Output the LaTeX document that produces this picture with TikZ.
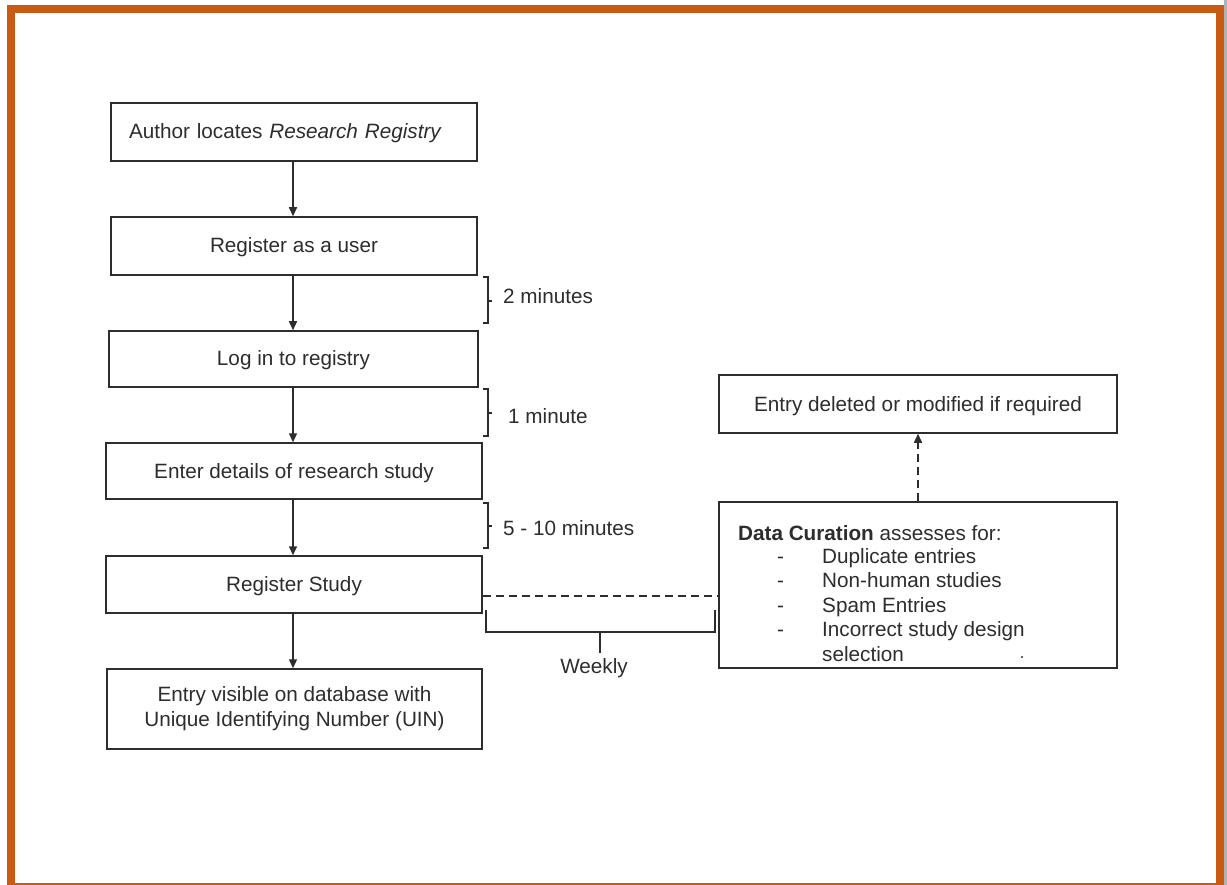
\documentclass[tikz,border=0pt]{standalone}
\usepackage{fontspec}
\setmainfont{Liberation Sans}
\usetikzlibrary{arrows.meta}
\definecolor{frame}{RGB}{200,90,20}
\definecolor{ink}{RGB}{45,45,45}
\begin{document}
\begin{tikzpicture}[x=1pt,y=-1pt,
  every node/.style={text=ink, font=\fontsize{20.7}{25}\selectfont},
  box/.style={draw=ink, line width=1.5pt, inner sep=0pt, align=center},
  one/.style={text height=14.8pt, text depth=0.8pt},
  flow/.style={draw=ink, line width=1.5pt, -{Triangle[length=9pt,width=8pt]}},
  dflow/.style={draw=ink, line width=1.5pt, dash pattern=on 8pt off 5pt, -{Triangle[length=9pt,width=8pt]}},
  dline/.style={draw=ink, line width=1.5pt, dash pattern=on 8pt off 5pt},
  brace/.style={draw=ink, line width=1.5pt},
  lbl/.style={anchor=west, inner sep=0pt}
]
\useasboundingbox (0,0) rectangle (1227,885);
\fill[white] (0,0) rectangle (1227,885);
\fill[gray!60] (1224,0) rectangle (1227,885);
\draw[frame, line width=8pt] (10.5,9) rectangle (1220,887);

% left column
\node[box, one, minimum width=366pt, minimum height=58pt, text width=330pt, inner xsep=18pt, align=left] (b1) at (294,132) {Author locates \textit{Research Registry}};
\node[box, one, minimum width=366pt, minimum height=58pt] (b2) at (294,246) {Register as a user};
\node[box, one, minimum width=369pt, minimum height=56pt] (b3) at (293.5,359) {Log in to registry};
\node[box, one, minimum width=376pt, minimum height=56pt] (b4) at (294,471) {Enter details of research study};
\node[box, one, minimum width=376pt, minimum height=57pt] (b5) at (294,584.5) {Register Study};
\node[box, minimum width=375pt, minimum height=80pt] (b6) at (294.5,709) {Entry visible on database with\\Unique Identifying Number (UIN)};

\draw[flow] (b1.south -| 293,0) -- (b2.north -| 293,0);
\draw[flow] (b2.south -| 293,0) -- (b3.north -| 293,0);
\draw[flow] (b3.south -| 293,0) -- (b4.north -| 293,0);
\draw[flow] (b4.south -| 293,0) -- (b5.north -| 293,0);
\draw[flow] (b5.south -| 293,0) -- (b6.north -| 293,0);

% braces
\draw[brace] (483,277) -- (488,277) -- (488,323) -- (483,323);
\draw[brace] (488,301) -- (492,301);
\node[lbl, one] (t1) at (503,297) {2 minutes};
\draw[brace] (483,389) -- (488,389) -- (488,436) -- (483,436);
\draw[brace] (488,413) -- (492,413);
\node[lbl, one] (t2) at (508,417) {1 minute};
\draw[brace] (483,503) -- (488,503) -- (488,548) -- (483,548);
\draw[brace] (488,526) -- (492,526);
\node[lbl, one] (t3) at (503,528) {5 - 10 minutes};

% right column
\node[box, one, minimum width=398pt, minimum height=58pt] (ed) at (918,404) {Entry deleted or modified if required};
\node[box, minimum width=398pt, minimum height=166pt] (dc) at (918,585) {};
\node[anchor=base west, inner sep=0pt] (dc0) at (738,540) {\textbf{Data Curation} assesses for:};
\foreach \t/\yy [count=\i] in {Duplicate entries/563, Non-human studies/587.5, Spam Entries/612, Incorrect study design/636.5}{
  \node[anchor=base west, inner sep=0pt] (dcb\i) at (777,\yy) {-};
  \node[anchor=base west, inner sep=0pt] (dci\i) at (822,\yy) {\t};
}
\node[anchor=base west, inner sep=0pt] (dci5) at (822,661) {selection};
\fill[ink] (1022,657) circle (1.1pt);

\draw[dflow] (dc.north) -- (ed.south);

% weekly link
\draw[dline] (b5.east |- 0,596) -- (dc.west |- 0,596);
\draw[brace] (486,610) -- (486,632) -- (715,632) -- (715,610);
\coordinate (wk) at (600,632);
\node[one] (weekly) at (594,666) {Weekly};
\draw[brace] (wk) -- (600,653);
\end{tikzpicture}
\end{document}
